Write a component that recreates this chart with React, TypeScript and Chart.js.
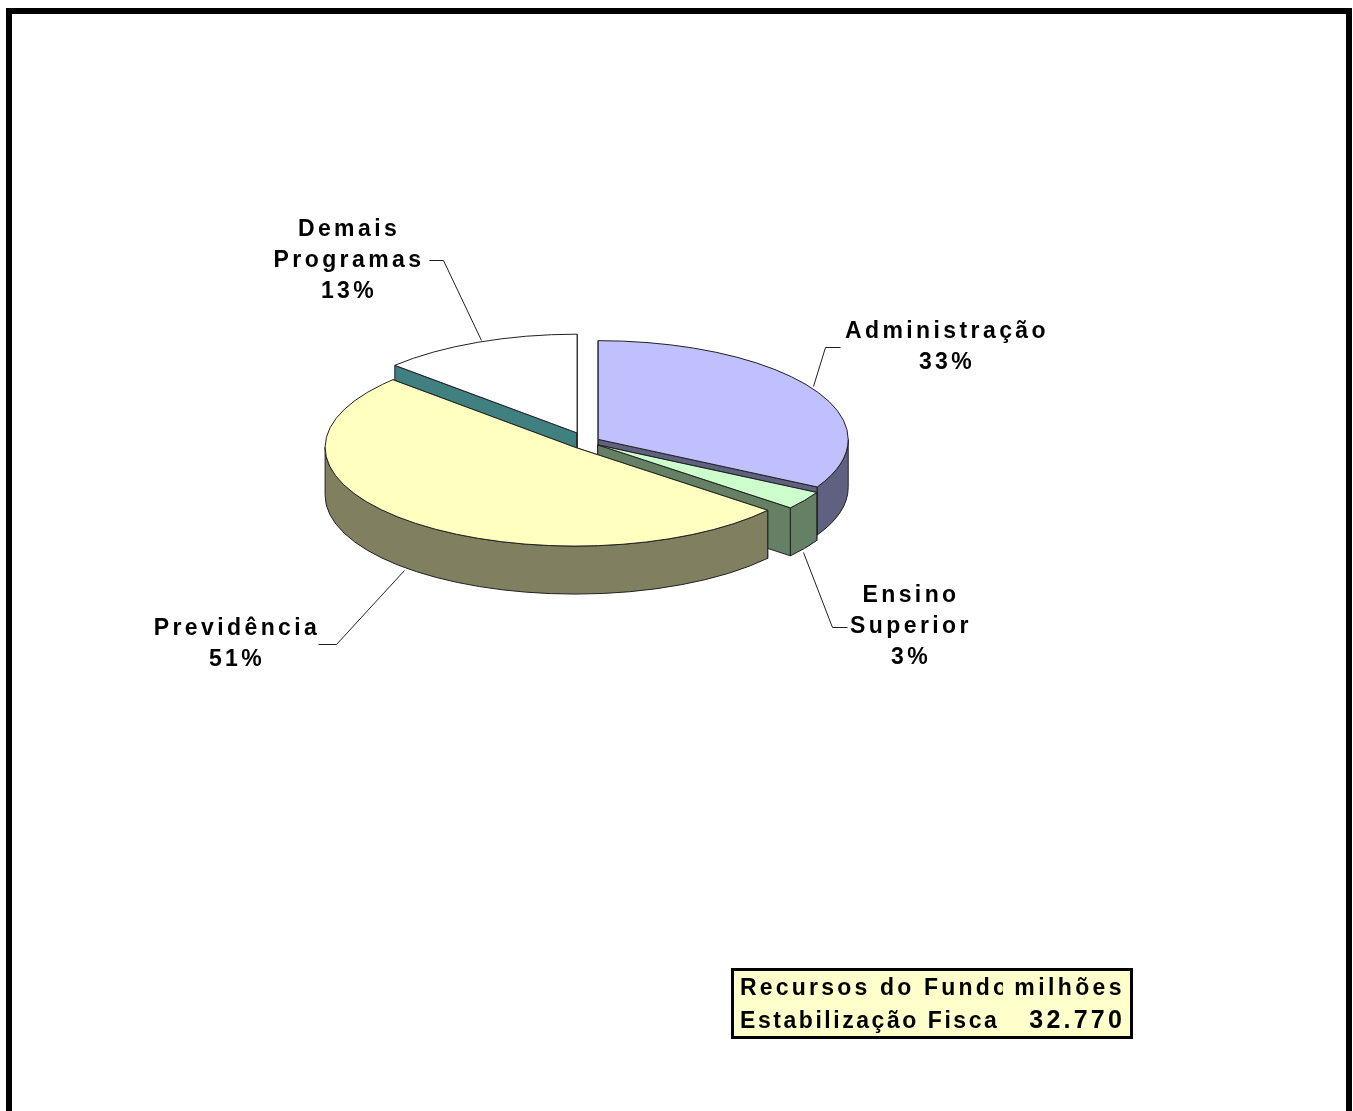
import React, { useEffect, useRef } from "react";
import { Chart, registerables } from "chart.js";

Chart.register(...registerables);

// Draw order runs back to front: Demais, Administração, Ensino, Previdência.
const categories = ["Demais Programas", "Administração", "Ensino Superior", "Previdência"];
const shares = [13, 33, 3, 51];
const topColors = ["#FFFFFF", "#C0C0FF", "#CCFFCC", "#FFFFC0"];
const wallColors = ["#408080", "#606080", "#668066", "#808060"];
const explode = [25, 13, 13, 18];

const labelLines = [
  ["Demais", "Programas", "13%"],
  ["Administração", "33%"],
  ["Ensino", "Superior", "3%"],
  ["Previdência", "51%"],
];
const tableLeft = ["Recursos do Fundo de", "Estabilização Fiscal"];
const tableUnit = "milhões";
const tableTotal = "32.770";

// Layout
const TILT = 0.395;
const DEPTH = 48;
const RADIUS = 250;
const START_ANGLE = -46.8;
const FONT = "bold 23px 'Liberation Sans', Arial, sans-serif";
const labelBoxes = [
  { x: 349, y: 236 },
  { x: 947, y: 338 },
  { x: 911, y: 602 },
  { x: 237, y: 635 },
];
const LINE_PITCH = 31;
const leaders = [
  [[429, 260], [443, 260], [481, 340]],
  [[840, 347], [825, 347], [813, 386]],
  [[803, 552], [832, 627], [847, 627]],
  [[404, 570], [336, 644], [318, 644]],
];

function sliceGeometry(arc: any, i: number) {
  const a0 = arc.startAngle;
  const a1 = arc.endAngle;
  const mid = (a0 + a1) / 2;
  const d = explode[i];
  return {
    a0,
    a1,
    r: arc.outerRadius,
    cx: arc.x + Math.cos(mid) * d,
    cy: arc.y + Math.sin(mid) * d * TILT,
  };
}

const pie3d = {
  id: "pie3d",
  beforeDatasetDraw(chart: any, args: any) {
    const ctx = chart.ctx;
    const arcs = args.meta.data;
    arcs.forEach((arc: any, i: number) => {
      const { a0, a1, r, cx, cy } = sliceGeometry(arc, i);
      const ry = r * TILT;
      const ptx = (a: number) => cx + r * Math.cos(a);
      const pty = (a: number) => cy + ry * Math.sin(a);
      ctx.save();
      ctx.lineWidth = 1;
      ctx.strokeStyle = "#202020";
      ctx.lineJoin = "round";
      ctx.fillStyle = wallColors[i];
      // radial faces
      [a0, a1].forEach((a) => {
        ctx.beginPath();
        ctx.moveTo(cx, cy);
        ctx.lineTo(ptx(a), pty(a));
        ctx.lineTo(ptx(a), pty(a) + DEPTH);
        ctx.lineTo(cx, cy + DEPTH);
        ctx.closePath();
        ctx.fill();
        ctx.stroke();
      });
      // outer curved face: only the part that faces the viewer
      const lo = Math.max(a0, 0);
      const hi = Math.min(a1, Math.PI);
      if (hi > lo) {
        ctx.beginPath();
        ctx.ellipse(cx, cy, r, ry, 0, lo, hi);
        ctx.lineTo(ptx(hi), pty(hi) + DEPTH);
        ctx.ellipse(cx, cy + DEPTH, r, ry, 0, hi, lo, true);
        ctx.closePath();
        ctx.fill();
        ctx.stroke();
      }
      // top face: the library's arc, flattened and moved to the exploded centre
      ctx.save();
      ctx.translate(cx, cy);
      ctx.scale(1, TILT);
      ctx.translate(-arc.x, -arc.y);
      arc.draw(ctx);
      ctx.restore();
      ctx.beginPath();
      ctx.moveTo(cx, cy);
      ctx.ellipse(cx, cy, r, ry, 0, a0, a1);
      ctx.closePath();
      ctx.stroke();
      ctx.restore();
    });
    return false;
  },
  afterDraw(chart: any) {
    const ctx = chart.ctx;
    ctx.save();
    // leader lines
    ctx.strokeStyle = "#202020";
    ctx.lineWidth = 1;
    leaders.forEach((pts) => {
      ctx.beginPath();
      pts.forEach(([x, y], j) => (j ? ctx.lineTo(x + 0.5, y + 0.5) : ctx.moveTo(x + 0.5, y + 0.5)));
      ctx.stroke();
    });
    // labels
    ctx.fillStyle = "#000";
    ctx.font = FONT;
    ctx.textAlign = "center";
    ctx.textBaseline = "alphabetic";
    ctx.letterSpacing = "3.4px";
    labelLines.forEach((lines, i) => {
      lines.forEach((t, j) => ctx.fillText(t, labelBoxes[i].x, labelBoxes[i].y + j * LINE_PITCH));
    });
    // table box
    ctx.fillStyle = "#FFFFCC";
    ctx.fillRect(732, 969, 400, 68);
    ctx.strokeStyle = "#000";
    ctx.lineWidth = 3;
    ctx.strokeRect(732.5, 969.5, 399, 68);
    ctx.fillStyle = "#000";
    ctx.textAlign = "left";
    ctx.save();
    ctx.beginPath();
    ctx.rect(735, 972, 268, 31);
    ctx.clip();
    ctx.letterSpacing = "3.2px";
    ctx.fillText(tableLeft[0], 740, 995);
    ctx.restore();
    ctx.save();
    ctx.beginPath();
    ctx.rect(735, 1003, 263, 32);
    ctx.clip();
    ctx.letterSpacing = "2.55px";
    ctx.fillText(tableLeft[1], 740, 1028);
    ctx.restore();
    ctx.textAlign = "right";
    ctx.letterSpacing = "3.4px";
    ctx.fillText(tableUnit, 1125, 995);
    ctx.font = "bold 25px 'Liberation Sans', Arial, sans-serif";
    ctx.letterSpacing = "3.2px";
    ctx.fillText(tableTotal, 1125, 1028);
    ctx.restore();
  },
};

export default function App() {
  const ref = useRef<HTMLCanvasElement>(null);
  useEffect(() => {
    const chart = new Chart(ref.current!, {
      type: "pie",
      data: {
        labels: categories,
        datasets: [
          {
            data: shares,
            backgroundColor: topColors,
            borderWidth: 0,
          },
        ],
      },
      options: {
        responsive: false,
        animation: false,
        rotation: START_ANGLE,
        radius: RADIUS,
        layout: { padding: { left: 0, top: 0, right: 179, bottom: 227 } },
        plugins: { legend: { display: false }, tooltip: { enabled: false } },
      },
      plugins: [pie3d],
    } as any);
    return () => chart.destroy();
  }, []);
  return (
    <>
      <div
        style={{
          position: "fixed",
          left: 6,
          top: 8,
          width: 1346,
          height: 1200,
          boxSizing: "border-box",
          border: "6px solid #000",
          background: "#fff",
        }}
      />
      <canvas
        ref={ref}
        width={1353}
        height={1111}
        style={{ position: "fixed", left: 0, top: 0, display: "block" }}
      />
    </>
  );
}
